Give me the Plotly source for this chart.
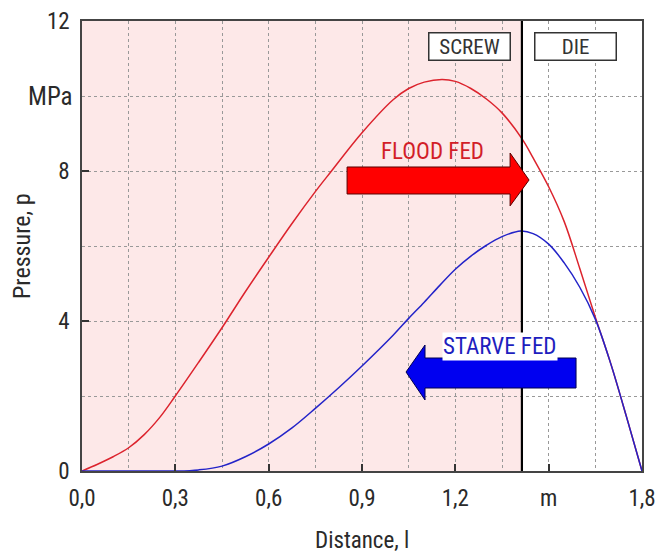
import plotly.graph_objects as go

# Data
dist_flood = [0.0, 0.05, 0.10, 0.15, 0.20, 0.25, 0.30, 0.375, 0.45, 0.525, 0.60, 0.675, 0.75, 0.80, 0.90, 1.00, 1.05, 1.10, 1.157, 1.20, 1.25, 1.30, 1.35, 1.415, 1.45, 1.50, 1.55, 1.60, 1.65, 1.70, 1.75, 1.80]
p_flood =    [0.0, 0.18, 0.38, 0.62, 0.97, 1.43, 2.00, 2.90, 3.82, 4.78, 5.70, 6.60, 7.45, 7.98, 9.02, 9.90, 10.20, 10.37, 10.44, 10.39, 10.20, 9.92, 9.55, 8.85, 8.35, 7.58, 6.65, 5.40, 4.10, 2.85, 1.45, 0.0]

dist_starve = [0.0, 0.20, 0.30, 0.375, 0.45, 0.525, 0.60, 0.675, 0.75, 0.825, 0.90, 1.00, 1.05, 1.10, 1.15, 1.20, 1.25, 1.30, 1.35, 1.41, 1.45, 1.50, 1.55, 1.60, 1.65, 1.70, 1.75, 1.80]
p_starve =    [0.0, 0.0, 0.0, 0.03, 0.13, 0.38, 0.72, 1.15, 1.67, 2.22, 2.80, 3.62, 4.07, 4.50, 4.95, 5.38, 5.73, 6.02, 6.25, 6.40, 6.33, 6.05, 5.55, 4.90, 4.05, 2.85, 1.45, 0.0]

x_tick_vals = [0.0, 0.3, 0.6, 0.9, 1.2, 1.5, 1.8]
x_tick_text = ["0,0", "0,3", "0,6", "0,9", "1,2", "m", "1,8"]
y_tick_vals = [0, 4, 8, 12]
y_tick_text = ["0", "4", "8", "12"]

screw_end = 1.414

FONT = "Liberation Sans Narrow, Roboto Condensed, Arial Narrow, Roboto, sans-serif"
RED = "rgb(220,35,45)"
BLUE = "rgb(35,35,200)"
TXT = "#2a2a2a"

fig = go.Figure()
fig.add_trace(go.Scatter(x=dist_flood, y=p_flood, mode="lines",
                         line=dict(color=RED, width=1.5, shape="spline", smoothing=1.0), showlegend=False))
fig.add_trace(go.Scatter(x=dist_starve, y=p_starve, mode="lines",
                         line=dict(color=BLUE, width=1.5, shape="spline", smoothing=1.0), showlegend=False))

shapes = []
shapes.append(dict(type="rect", xref="x", yref="y", x0=0, x1=screw_end, y0=0, y1=12,
                   fillcolor="rgb(253,232,232)", line=dict(width=0), layer="below"))
shapes.append(dict(type="line", xref="x", yref="y", x0=screw_end, x1=screw_end, y0=0, y1=12,
                   line=dict(color="black", width=2.2)))


def arrow_path(pts):
    return "M " + " L ".join(f"{x},{y}" for x, y in pts) + " Z"


red_arrow = [(0.852, 8.107), (1.376, 8.107), (1.376, 8.48), (1.437, 7.76), (1.376, 7.07), (1.376, 7.387), (0.852, 7.387)]
shapes.append(dict(type="path", xref="x", yref="y", path=arrow_path(red_arrow),
                   fillcolor="rgb(255,0,0)", line=dict(color="rgb(90,0,0)", width=1)))
blue_arrow = [(1.588, 3.013), (1.1025, 3.013), (1.1025, 3.36), (1.0415, 2.64), (1.1025, 1.893), (1.1025, 2.213), (1.588, 2.213)]
shapes.append(dict(type="path", xref="x", yref="y", path=arrow_path(blue_arrow),
                   fillcolor="rgb(0,0,240)", line=dict(color="rgb(0,0,80)", width=1)))

annotations = [
    dict(x=0, y=10, xref="x", yref="y", text="MPa", showarrow=False, xanchor="right", xshift=-7,
         font=dict(family=FONT, size=25, color=TXT)),
    dict(x=1.2456, y=11.31, xref="x", yref="y", text="SCREW", showarrow=False,
         font=dict(family=FONT, size=21, color="#333"), bgcolor="white", bordercolor="#333", borderwidth=1.5,
         width=78, height=24),
    dict(x=1.585, y=11.31, xref="x", yref="y", text="DIE", showarrow=False,
         font=dict(family=FONT, size=21, color="#333"), bgcolor="white", bordercolor="#333", borderwidth=1.5,
         width=78, height=24),
    dict(x=1.125, y=8.51, xref="x", yref="y", text="FLOOD FED", showarrow=False,
         font=dict(family=FONT, size=23, color="rgb(210,30,40)")),
    dict(x=1.344, y=3.31, xref="x", yref="y", text="STARVE FED", showarrow=False,
         font=dict(family=FONT, size=23, color="rgb(30,30,190)"), bgcolor="white", borderpad=0),
    dict(x=0.5, y=0, xref="paper", yref="paper", text="Distance, l", showarrow=False,
         xanchor="center", yanchor="middle", yshift=-69, font=dict(family=FONT, size=23, color=TXT)),
    dict(x=0, y=0.5, xref="paper", yref="paper", text="Pressure, p", showarrow=False, textangle=-90,
         xanchor="center", yanchor="middle", xshift=-60, font=dict(family=FONT, size=24, color=TXT)),
]

fig.update_layout(
    width=661, height=559,
    margin=dict(l=82, r=19, t=21, b=88, autoexpand=False),
    paper_bgcolor="white", plot_bgcolor="white",
    shapes=shapes, annotations=annotations,
    font=dict(family=FONT, size=21, color=TXT),
)
fig.update_xaxes(
    range=[0, 1.8], tickvals=x_tick_vals, ticktext=x_tick_text, automargin=False,
    ticks="inside", ticklen=7, tickcolor="#333", tickwidth=1.5, ticklabelstandoff=6,
    showline=True, linecolor="#444", linewidth=1.5, mirror=True,
    showgrid=True, gridcolor="#999", griddash="dot", gridwidth=1,
    minor=dict(dtick=0.15, tick0=0, showgrid=True, gridcolor="#999", griddash="dot", gridwidth=1, ticks=""),
    zeroline=False,
    tickfont=dict(family=FONT, size=23, color=TXT),
)
fig.update_yaxes(
    range=[0, 12], tickvals=y_tick_vals, ticktext=y_tick_text, automargin=False,
    ticks="inside", ticklen=7, tickcolor="#333", tickwidth=1.5, ticklabelstandoff=6,
    showline=True, linecolor="#444", linewidth=1.5, mirror=True,
    showgrid=True, gridcolor="#999", griddash="dot", gridwidth=1,
    minor=dict(dtick=2, tick0=0, showgrid=True, gridcolor="#999", griddash="dot", gridwidth=1, ticks=""),
    zeroline=False,
    tickfont=dict(family=FONT, size=23, color=TXT),
)

fig.write_html("out.html")
